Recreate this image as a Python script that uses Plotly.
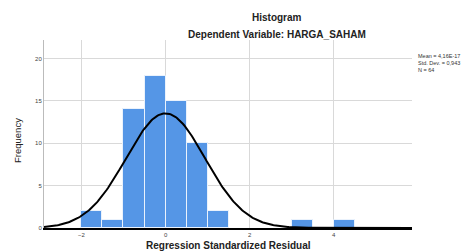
import numpy as np
import plotly.graph_objects as go

bin_left = [-2.0, -1.5, -1.0, -0.5, 0.0, 0.5, 1.0, 3.0, 4.0]
counts = [2, 1, 14, 18, 15, 10, 2, 1, 1]
bin_width = 0.5
mean = 4.16e-17
std = 0.943
n = 64
x_ticks = [-2, 0, 2, 4]
y_ticks = [0, 5, 10, 15, 20]

centers = [b + bin_width / 2 for b in bin_left]
xs = np.linspace(-2.89, 5.86, 300)
ys = n * bin_width * np.exp(-0.5 * ((xs - mean) / std) ** 2) / (std * np.sqrt(2 * np.pi))

fig = go.Figure()
fig.add_trace(go.Bar(x=centers, y=counts, width=bin_width,
                     marker=dict(color="#5596e6", line=dict(color="#eaf2fc", width=1)),
                     hoverinfo="skip"))
fig.add_trace(go.Scatter(x=xs, y=ys, mode="lines", line=dict(color="black", width=2),
                         hoverinfo="skip"))

font = "Liberation Sans, Arial, sans-serif"
title_font = dict(size=10, color="#222222")
fig.update_layout(
    width=470, height=252, showlegend=False,
    margin=dict(l=44, r=58, t=40, b=24),
    paper_bgcolor="white", plot_bgcolor="white",
    font=dict(family=font, size=7, color="#333333"),
    bargap=0,
    xaxis=dict(range=[-2.89, 5.86], tickvals=x_ticks, showgrid=True, gridcolor="#d9d9d9",
               gridwidth=1, zeroline=False, showline=True, linecolor="black", linewidth=1.5,
               ticks="", tickfont=dict(size=6, color="#444444")),
    yaxis=dict(range=[0, 22.2], tickvals=y_ticks, showgrid=True, gridcolor="#d9d9d9",
               gridwidth=1, zeroline=False, showline=True, linecolor="#bbbbbb", linewidth=1,
               ticks="", tickfont=dict(size=6, color="#444444")),
    annotations=[
        dict(text="<b>Histogram</b>", xref="paper", yref="paper", x=(277 - 44) / 368,
             y=1 + (40 - 18) / 188, showarrow=False, font=title_font,
             xanchor="center", yanchor="middle"),
        dict(text="<b>Dependent Variable: HARGA_SAHAM</b>", xref="paper", yref="paper",
             x=(277 - 44) / 368, y=1 + (40 - 34) / 188, showarrow=False,
             font=title_font, xanchor="center", yanchor="middle"),
        dict(text="<b>Regression Standardized Residual</b>", xref="paper", yref="paper",
             x=(229 - 44) / 368, y=-(245 - 228) / 188, showarrow=False,
             font=title_font, xanchor="center", yanchor="middle"),
        dict(text="Frequency", xref="paper", yref="paper", x=-(44 - 17) / 368,
             y=(228 - 140) / 188, showarrow=False, textangle=-90,
             font=dict(size=9.5, color="#222222"), xanchor="center", yanchor="middle"),
        dict(text="Mean = 4,16E-17<br>Std. Dev. = 0,943<br>N = 64", xref="paper",
             yref="paper", x=(416 - 44) / 368, y=(228 - 51) / 188, showarrow=False,
             align="left", font=dict(size=5.5, color="#333333"), xanchor="left",
             yanchor="top"),
    ],
)

fig.write_html("out.html", config={"displayModeBar": False},
               post_script="document.body.style.margin='0';document.body.style.padding='0';")
